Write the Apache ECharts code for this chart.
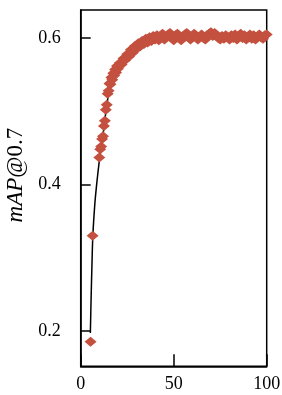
<!DOCTYPE html>
<html>
<head>
<meta charset="utf-8">
<script src="https://cdn.jsdelivr.net/npm/echarts@6/dist/echarts.min.js"></script>
<style>html,body{margin:0;padding:0;background:#fff}#c{width:282px;height:395px}</style>
</head>
<body>
<div id="c"></div>
<script>
// Scatter points (x, mAP@0.7)
var pointX = [5.3, 6.4,
  10, 10.5, 11, 11.5, 12, 12.5, 13, 13.5, 14, 14.5, 15, 15.5, 16, 16.5, 17, 17.5, 18, 18.5, 19, 19.5, 20,
  21, 22, 23, 24, 25, 26, 27, 28, 29, 30, 31, 32, 33, 34, 35, 36, 37, 38, 39, 40,
  41, 42, 43, 44, 45, 46, 47, 48, 49, 50, 51, 52, 53, 54, 55, 56, 57, 58, 59, 60,
  61, 62, 63, 64, 65, 66, 67, 68, 69, 70, 71, 72, 73, 74, 75, 76, 77, 78, 79, 80,
  81, 82, 83, 84, 85, 86, 87, 88, 89, 90, 91, 92, 93, 94, 95, 96, 97, 98, 99, 100];
var pointY = [0.185, 0.330,
  0.437, 0.448, 0.452, 0.462, 0.466, 0.480, 0.487, 0.502, 0.509, 0.524, 0.528, 0.538, 0.537, 0.546, 0.543, 0.552, 0.549, 0.557, 0.553, 0.562, 0.558,
  0.566, 0.564, 0.572, 0.570, 0.578, 0.575, 0.584, 0.580, 0.589, 0.585, 0.593, 0.589, 0.596, 0.592, 0.599, 0.594, 0.601, 0.596, 0.603, 0.598,
  0.604, 0.597, 0.602, 0.606, 0.598, 0.601, 0.605, 0.607, 0.600, 0.597, 0.604, 0.606, 0.600, 0.597, 0.602, 0.605, 0.607, 0.601, 0.598, 0.603,
  0.606, 0.602, 0.598, 0.601, 0.605, 0.600, 0.598, 0.604, 0.606, 0.608, 0.603, 0.607, 0.604, 0.600, 0.598, 0.603, 0.599, 0.604, 0.601, 0.598,
  0.604, 0.600, 0.605, 0.598, 0.602, 0.606, 0.600, 0.604, 0.598, 0.602, 0.605, 0.599, 0.604, 0.598, 0.602, 0.605, 0.601, 0.599, 0.604, 0.605];
// Fitted curve (black line)
var fitX = [5.2, 5.6, 6, 6.5, 7.5, 8.5, 10, 12, 14, 16, 18, 20, 25, 30, 35, 40, 50, 70, 100];
var fitY = [0.197, 0.245, 0.285, 0.328, 0.370, 0.398, 0.432, 0.468, 0.508, 0.538, 0.552, 0.561, 0.576, 0.589, 0.596, 0.600, 0.602, 0.603, 0.603];
// Tick labels
var xTicks = [0, 50, 100];
var yTicks = [0.2, 0.4, 0.6];

var font = 'Liberation Serif';
var chart = echarts.init(document.getElementById('c'), null, {renderer: 'canvas'});
chart.setOption({
  animation: false,
  backgroundColor: '#fff',
  grid: {left: 80.7, right: 15.3, top: 10, bottom: 28.7, containLabel: false, outerBoundsMode: 'none',
         show: true, borderColor: '#000', borderWidth: 1.5},
  xAxis: {
    type: 'value', min: 0, max: 100, interval: 50,
    axisLine: {show: true, onZero: false, lineStyle: {color: '#000', width: 1.5}},
    axisTick: {show: true, inside: true, length: 12, lineStyle: {color: '#000', width: 1.5}, customValues: xTicks},
    axisLabel: {color: '#000', fontFamily: font, fontSize: 18, margin: 9, customValues: xTicks},
    splitLine: {show: false}
  },
  yAxis: {
    type: 'value', min: 0.1515, max: 0.6384,
    name: '{i|mAP}{n|@0.7}', nameLocation: 'middle', nameGap: 52,
    nameTextStyle: {padding: [0, 0, 0, 26], rich: {
      i: {fontFamily: font, fontSize: 23, fontStyle: 'italic', color: '#000'},
      n: {fontFamily: font, fontSize: 23, color: '#000'}
    }},
    axisLine: {show: true, onZero: false, lineStyle: {color: '#000', width: 1.5}},
    axisTick: {show: true, inside: true, length: 10, lineStyle: {color: '#000', width: 1.5}, customValues: yTicks},
    axisLabel: {color: '#000', fontFamily: font, fontSize: 18, margin: 20, customValues: yTicks,
      formatter: function (v) { return v.toFixed(1); }},
    splitLine: {show: false}
  },
  series: [
    {
      type: 'line', smooth: 0.3, showSymbol: false, z: 1,
      lineStyle: {color: '#000', width: 1.5},
      data: fitX.map(function (x, i) { return [x, fitY[i]]; })
    },
    {
      type: 'scatter', symbol: 'diamond', symbolSize: [12, 10], z: 2,
      itemStyle: {color: '#C4503F', opacity: 1},
      data: pointX.map(function (x, i) { return [x, pointY[i]]; })
    }
  ]
});
</script>
</body>
</html>
